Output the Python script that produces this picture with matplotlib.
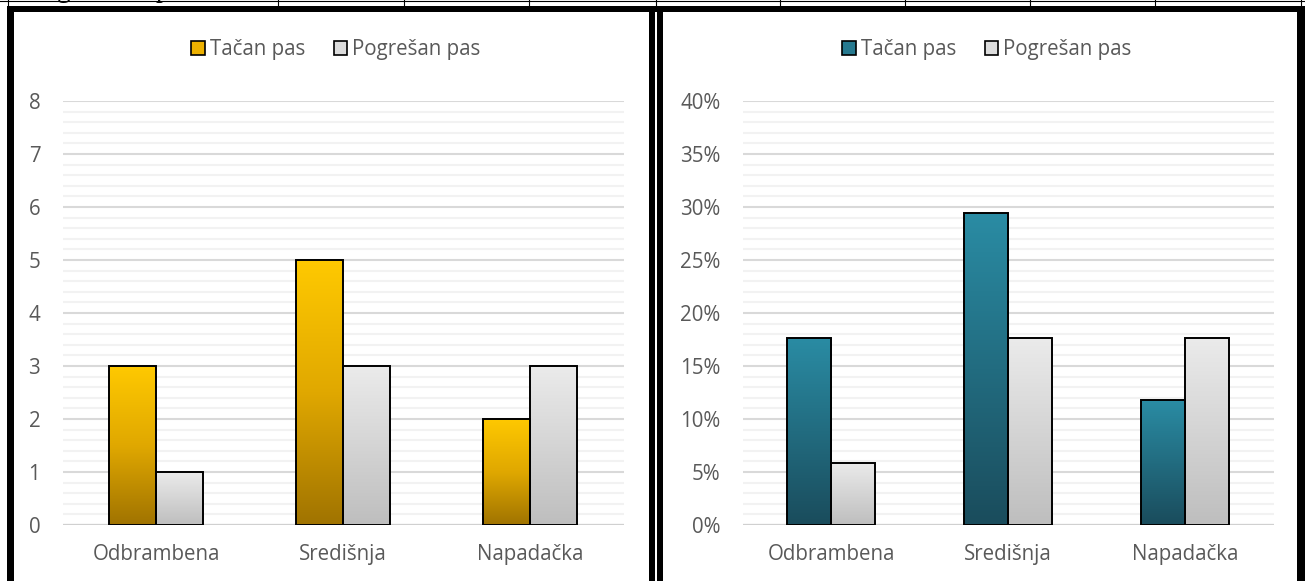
import numpy as np
import matplotlib
matplotlib.use("Agg")
import matplotlib.pyplot as plt
from matplotlib.patches import Rectangle, Patch
from matplotlib.lines import Line2D
from matplotlib.colors import LinearSegmentedColormap
from matplotlib.ticker import MultipleLocator, FuncFormatter

# ---------------- data ----------------
categories = ["Odbrambena", "Središnja", "Napadačka"]
series_names = ["Tačan pas", "Pogrešan pas"]
counts_correct = [3, 5, 2]
counts_wrong = [1, 3, 3]
pct_correct = [0.1765, 0.2941, 0.1176]
pct_wrong = [0.0588, 0.1765, 0.1765]

W, H = 1305, 581
DPI = 100
fig = plt.figure(figsize=(W / DPI, H / DPI), dpi=DPI)
fig.patch.set_facecolor("white")
plt.rcParams['font.family'] = ['Open Sans', 'DejaVu Sans']

TXT = "#595959"
FS = 14.8


def fx(px):
    return px / W


def fy(py):
    return 1 - py / H


def add_rect(x0, y0, x1, y1, color, z=10):
    fig.add_artist(Rectangle((fx(x0), fy(y1)), fx(x1) - fx(x0), fy(y0) - fy(y1),
                             transform=fig.transFigure, facecolor=color,
                             edgecolor='none', zorder=z))


def add_line(x0, y0, x1, y1, color="black", lw=1.0, z=10):
    fig.add_artist(Line2D([fx(x0), fx(x1)], [fy(y0), fy(y1)], transform=fig.transFigure,
                          color=color, lw=lw, zorder=z))


# gradients
cm_gold = LinearSegmentedColormap.from_list("gold", ["#A07300", "#E0A800", "#FFC900"])
cm_grey = LinearSegmentedColormap.from_list("grey", ["#BEBEBE", "#EBEBEB"])
cm_teal = LinearSegmentedColormap.from_list("teal", ["#1A4C5C", "#2A8CA4"])


def draw_chart(ax, v1, v2, cmap1, cmap2, ymax, major, minor, fmt):
    x = np.arange(len(categories))
    bw = 0.251
    b1 = ax.bar(x - bw / 2, v1, bw, facecolor='none', edgecolor='black', lw=1.4, zorder=4)
    b2 = ax.bar(x + bw / 2, v2, bw, facecolor='none', edgecolor='black', lw=1.4, zorder=4)
    grad = np.linspace(0, 1, 256).reshape(-1, 1)
    for bars, cmap in ((b1, cmap1), (b2, cmap2)):
        for p in bars:
            x0, y0 = p.get_x(), p.get_y()
            w, h = p.get_width(), p.get_height()
            im = ax.imshow(grad, cmap=cmap, origin='lower', aspect='auto',
                           extent=[x0, x0 + w, y0, y0 + h], zorder=3,
                           interpolation='bilinear')
            im.set_clip_path(p)
    ax.set_xlim(-0.5, len(categories) - 0.5)
    ax.set_ylim(0, ymax)
    ax.yaxis.set_major_locator(MultipleLocator(major))
    ax.yaxis.set_minor_locator(MultipleLocator(minor))
    ax.yaxis.set_major_formatter(FuncFormatter(fmt))
    ax.grid(which='minor', axis='y', color='#F2F2F2', lw=1.5, zorder=0)
    ax.grid(which='major', axis='y', color='#D9D9D9', lw=1.5, zorder=1)
    ax.set_axisbelow(True)
    for s in ax.spines.values():
        s.set_visible(False)
    ax.axhline(0, color='#D0D0D0', lw=1.6, zorder=2)
    ax.set_xticks(x)
    ax.set_xticklabels(categories)
    ax.tick_params(axis='x', length=0, pad=14, labelsize=FS, labelcolor=TXT)
    ax.tick_params(axis='y', which='both', length=0, pad=16, labelsize=FS, labelcolor=TXT)
    ax.set_facecolor('none')


# left chart
axL = fig.add_axes([fx(62.5), fy(525), fx(623.5) - fx(62.5), fy(101) - fy(525)])
draw_chart(axL, counts_correct, counts_wrong, cm_gold, cm_grey, 8, 1, 0.2,
           lambda v, p: f"{v:.0f}")

# right chart
axR = fig.add_axes([fx(742.5), fy(525), fx(1273.5) - fx(742.5), fy(101) - fy(525)])
draw_chart(axR, pct_correct, pct_wrong, cm_teal, cm_grey, 0.40, 0.05, 0.01,
           lambda v, p: f"{v * 100:.0f}%")

# legends
for cx, c1 in ((336, "#ECB000"), (987, "#26798F")):
    handles = [Patch(facecolor=c1, edgecolor='black', lw=1.2),
               Patch(facecolor='#DCDCDC', edgecolor='black', lw=1.2)]
    fig.legend(handles, series_names, loc='center', bbox_to_anchor=(fx(cx), fy(49.5)),
               ncol=2, frameon=False, fontsize=FS, labelcolor=TXT,
               handlelength=0.65, handleheight=0.65, handletextpad=0.25,
               columnspacing=1.4)

# frames
add_rect(7, 5.7, 1305, 12.3, "black")           # top thick bar
add_rect(7, 5.7, 14, H + 5, "black")            # left frame left
add_rect(649, 5.7, 654.5, H + 5, "black")       # left frame right
add_rect(657, 5.7, 663, H + 5, "black")         # right frame left
add_rect(1297, 5.7, 1305, H + 5, "black")       # right frame right

# top table strip remnants
add_line(0, 0.5, W, 0.5, lw=0.8)
for xv in (7.5, 278, 404, 529, 655.5, 780, 905, 1030, 1155, 1301):
    add_line(xv, 0, xv, 6, lw=0.8)
fig.text(fx(57), fy(-3.0), "g", family=['Liberation Serif'], fontsize=20,
         color='black', ha='left', va='baseline')
fig.text(fx(156), fy(-3.0), "p", family=['Liberation Serif'], fontsize=20,
         color='black', ha='left', va='baseline')

fig.savefig("out.png", dpi=DPI, facecolor='white')
